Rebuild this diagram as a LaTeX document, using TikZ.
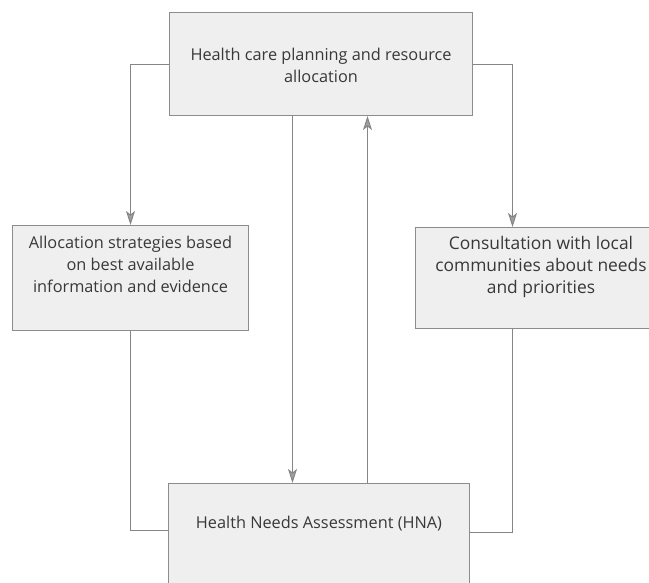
\documentclass[tikz,border=0pt]{standalone}
\usepackage{fontspec}
\setmainfont{Open Sans}
\usetikzlibrary{arrows.meta}
\definecolor{boxfill}{HTML}{EFEFEF}
\definecolor{boxline}{HTML}{8C8C8C}
\definecolor{linecol}{HTML}{858585}
\definecolor{tipcol}{HTML}{A0A0A0}
\definecolor{txtcol}{HTML}{383838}
\begin{document}
\begin{tikzpicture}[x=1pt,y=-1pt,
  box/.style={draw=boxline, fill=boxfill, line width=1pt, inner sep=0pt, anchor=north west},
  txt/.style={text=txtcol, font=\fontsize{16.3}{22}\selectfont, align=center, inner sep=0pt, anchor=north},
  conn/.style={draw=linecol, line width=1pt},
  arr/.style={conn, -{Stealth[length=14pt,width=9pt,inset=3.5pt,fill=tipcol,color=linecol]}}]
\useasboundingbox (0,0) rectangle (649,582);
\clip (0,0) rectangle (649,582);
\fill[white] (0,0) rectangle (649,582);

% boxes
\node[box, minimum width=303, minimum height=103] (plan) at (169,12) {};
\node[box, minimum width=236, minimum height=105] (alloc) at (12,225) {};
\node[box, minimum width=251, minimum height=101] (consult) at (415,227) {};
\node[box, minimum width=301, minimum height=130] (hna) at (168,483) {};

% box texts
\node[txt] (plantxt) at ([yshift=-36pt]plan.north) {Health care planning and resource\\allocation};
\node[txt] (alloctxt) at ([yshift=-11pt]alloc.north) {Allocation strategies based\\on best available\\information and evidence};
\node[txt, font=\fontsize{17.4}{22}\selectfont] (consulttxt) at ([yshift=-9pt]consult.north) {Consultation with local\\communities about needs\\and priorities};
\node[txt] (hnatxt) at ([yshift=-33pt]hna.north) {Health Needs Assessment (HNA)};

% connector attachment points
\coordinate (dn) at ([xshift=-28.5pt]plan.south);
\coordinate (up) at ([xshift=46.5pt]plan.south);
\coordinate (cr) at ([xshift=-28.5pt]consult.north);
\coordinate (crb) at ([xshift=-28.5pt]consult.south);
\coordinate (hl) at ([yshift=-47pt]hna.north west);
\coordinate (hr) at ([yshift=-49pt]hna.north east);

% connectors
\draw[arr] (plan.west) -| (alloc.north);
\draw[arr] (plan.east) -| (cr);
\draw[arr] (dn) -- (dn |- hna.north);
\draw[arr] (up |- hna.north) -- (up);
\draw[conn] (alloc.south) |- (hl);
\draw[conn] (crb) |- (hr);
\end{tikzpicture}
\end{document}
